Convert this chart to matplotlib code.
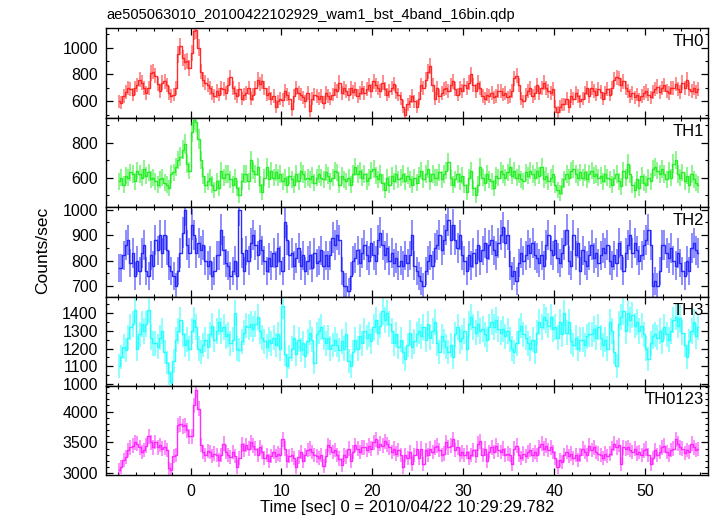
import numpy as np
import matplotlib
matplotlib.use("Agg")
import matplotlib.pyplot as plt
from matplotlib.ticker import MultipleLocator

plt.rcParams['font.family'] = ['Liberation Sans', 'DejaVu Sans']

title = "ae505063010_20100422102929_wam1_bst_4band_16bin.qdp"
xlabel = "Time [sec] 0 = 2010/04/22 10:29:29.782"
bands = ["TH0", "TH1", "TH2", "TH3", "TH0123"]
t_start = -8.0
bin_size = 0.25

# count rates, 0.25 s bins, 4 bins per second (one row = 4 s)
th0 = [600, 590, 640, 670, 700, 690, 650, 700, 720, 760, 740, 700, 660, 700, 810, 820,
       790, 730, 680, 740, 750, 720, 660, 640, 650, 700, 950, 1010, 920, 890, 900, 850,
       960, 1120, 1130, 1000, 820, 760, 740, 720, 700, 660, 640, 680, 650, 700, 690, 660,
       720, 780, 700, 660, 640, 690, 620, 650, 660, 700, 620, 650, 700, 760, 730, 750,
       700, 650, 660, 620, 640, 560, 600, 620, 610, 680, 650, 620, 540, 640, 700, 660,
       650, 630, 600, 660, 530, 620, 650, 640, 620, 640, 590, 660, 640, 620, 650, 690,
       680, 740, 660, 700, 680, 650, 700, 670, 690, 640, 660, 700, 660, 690, 720, 680,
       750, 720, 700, 680, 740, 690, 650, 680, 700, 730, 670, 650, 620, 560, 500, 580,
       600, 640, 600, 560, 620, 720, 700, 760, 820, 860, 720, 620, 700, 640, 660, 690,
       700, 680, 720, 750, 690, 650, 700, 680, 720, 700, 740, 800, 720, 680, 740, 700,
       640, 620, 650, 640, 660, 630, 640, 680, 680, 650, 660, 630, 640, 680, 770, 790,
       720, 620, 600, 650, 680, 700, 640, 660, 720, 660, 700, 740, 700, 680, 660, 690,
       560, 520, 560, 580, 580, 620, 560, 640, 620, 660, 640, 600, 620, 660, 700, 640,
       700, 680, 650, 690, 670, 620, 660, 690, 650, 700, 760, 780, 770, 720, 750, 700,
       680, 640, 660, 630, 650, 610, 640, 660, 680, 650, 630, 670, 690, 710, 670, 700,
       720, 680, 660, 700, 700, 730, 690, 670, 740, 700, 760, 690, 680, 700, 670, 690]

th1 = [580, 600, 560, 610, 600, 630, 620, 580, 640, 620, 600, 650, 610, 630, 590, 600,
       580, 560, 590, 600, 570, 560, 540, 620, 630, 660, 700, 720, 760, 790, 680, 640,
       860, 930, 920, 820, 700, 610, 560, 580, 600, 560, 530, 580, 540, 640, 600, 620,
       620, 590, 560, 600, 540, 500, 580, 620, 620, 580, 700, 640, 620, 660, 560, 520,
       600, 660, 590, 640, 600, 630, 600, 620, 580, 600, 560, 610, 590, 560, 620, 580,
       640, 620, 590, 600, 590, 610, 570, 600, 620, 600, 590, 630, 610, 580, 600, 640,
       630, 560, 610, 590, 580, 600, 560, 620, 660, 620, 640, 600, 620, 580, 600, 640,
       650, 610, 590, 620, 570, 530, 600, 560, 610, 580, 620, 590, 600, 620, 580, 610,
       590, 560, 600, 570, 610, 640, 590, 620, 650, 580, 620, 600, 600, 630, 590, 620,
       640, 690, 600, 560, 590, 620, 580, 610, 560, 520, 600, 640, 540, 500, 560, 660,
       600, 570, 620, 590, 580, 540, 610, 600, 640, 620, 600, 630, 660, 610, 640, 600,
       620, 590, 580, 630, 610, 640, 620, 600, 640, 610, 660, 590, 610, 580, 600, 620,
       560, 530, 510, 550, 590, 620, 600, 640, 650, 620, 600, 630, 600, 630, 590, 620,
       640, 610, 620, 600, 610, 580, 620, 600, 590, 560, 600, 620, 580, 550, 640, 600,
       680, 620, 560, 530, 590, 540, 610, 570, 560, 600, 580, 650, 660, 640, 620, 650,
       620, 590, 640, 600, 680, 700, 620, 600, 630, 580, 610, 560, 620, 590, 570, 560]

th2 = [770, 770, 820, 860, 880, 790, 830, 740, 800, 760, 830, 860, 760, 740, 820, 780,
       880, 840, 900, 830, 900, 840, 780, 760, 740, 700, 760, 830, 910, 1000, 860, 830,
       940, 900, 830, 870, 840, 860, 800, 780, 800, 740, 760, 820, 820, 920, 840, 790,
       780, 740, 760, 800, 740, 1000, 830, 760, 840, 800, 870, 900, 860, 820, 880, 840,
       800, 760, 810, 780, 830, 780, 850, 800, 760, 950, 880, 820, 830, 780, 810, 850,
       780, 820, 760, 800, 820, 770, 830, 790, 800, 840, 780, 820, 780, 820, 890, 860,
       900, 880, 760, 700, 700, 680, 740, 800, 810, 840, 790, 830, 860, 820, 800, 870,
       820, 800, 880, 910, 860, 820, 850, 800, 830, 790, 810, 780, 800, 780, 820, 790,
       820, 900, 780, 760, 740, 720, 700, 760, 800, 820, 780, 850, 860, 900, 840, 880,
       920, 960, 880, 940, 880, 850, 900, 820, 800, 760, 820, 780, 830, 790, 860, 800,
       840, 870, 810, 860, 880, 840, 820, 870, 900, 930, 870, 900, 780, 740, 760, 720,
       790, 830, 800, 820, 860, 830, 870, 820, 810, 790, 820, 780, 860, 900, 840, 820,
       880, 810, 790, 830, 860, 920, 800, 780, 900, 820, 870, 760, 840, 800, 780, 820,
       860, 810, 830, 790, 820, 850, 830, 860, 800, 780, 820, 790, 870, 820, 760, 830,
       860, 900, 830, 870, 840, 800, 820, 860, 880, 920, 860, 700, 720, 700, 760, 860,
       860, 830, 810, 850, 800, 780, 830, 790, 760, 740, 800, 760, 850, 870, 840, 830]

th3 = [1100, 1150, 1210, 1190, 1260, 1320, 1340, 1420, 1200, 1280, 1340, 1300, 1340, 1420, 1260, 1230,
       1230, 1210, 1260, 1300, 1180, 1120, 1060, 1010, 1130, 1250, 1300, 1360, 1280, 1220, 1250, 1200,
       1300, 1360, 1320, 1200, 1180, 1220, 1250, 1210, 1280, 1330, 1250, 1300, 1350, 1300, 1320, 1270,
       1280, 1230, 1250, 1400, 1200, 1190, 1240, 1290, 1330, 1320, 1340, 1310, 1340, 1380, 1300, 1260,
       1240, 1210, 1250, 1230, 1260, 1220, 1280, 1200, 1440, 1170, 1100, 1150, 1200, 1260, 1170, 1250,
       1190, 1230, 1160, 1240, 1290, 1250, 1120, 1280, 1300, 1320, 1260, 1230, 1260, 1200, 1220, 1250,
       1220, 1190, 1240, 1200, 1280, 1130, 1100, 1180, 1250, 1200, 1270, 1230, 1300, 1260, 1280, 1240,
       1320, 1360, 1290, 1330, 1410, 1360, 1400, 1340, 1300, 1230, 1280, 1210, 1250, 1180, 1140, 1220,
       1290, 1210, 1240, 1280, 1300, 1270, 1320, 1250, 1340, 1260, 1300, 1350, 1230, 1180, 1270, 1240,
       1210, 1180, 1220, 1150, 1280, 1320, 1240, 1260, 1300, 1200, 1340, 1380, 1320, 1290, 1340, 1300,
       1310, 1280, 1250, 1320, 1350, 1320, 1360, 1310, 1290, 1310, 1270, 1300, 1250, 1200, 1180, 1230,
       1300, 1330, 1280, 1260, 1230, 1200, 1250, 1180, 1290, 1350, 1320, 1380, 1360, 1330, 1380, 1310,
       1320, 1260, 1350, 1280, 1400, 1290, 1350, 1240, 1220, 1260, 1200, 1250, 1250, 1220, 1270, 1280,
       1280, 1310, 1260, 1320, 1260, 1220, 1250, 1200, 1350, 1300, 1180, 1100, 1340, 1380, 1410, 1300,
       1400, 1360, 1390, 1330, 1350, 1300, 1330, 1280, 1200, 1140, 1230, 1270, 1280, 1260, 1300, 1240,
       1320, 1280, 1250, 1300, 1360, 1380, 1330, 1370, 1290, 1220, 1150, 1240, 1300, 1350, 1270, 1320]

th0123 = [3050, 3100, 3210, 3260, 3380, 3420, 3450, 3500, 3480, 3420, 3350, 3380, 3450, 3600, 3500, 3420,
          3510, 3420, 3460, 3400, 3420, 3380, 3080, 3050, 3280, 3300, 3780, 3800, 3760, 3780, 3700, 3600,
          3600, 4100, 4350, 4050, 3460, 3350, 3300, 3360, 3350, 3280, 3320, 3300, 3220, 3300, 3480, 3350,
          3300, 3260, 3340, 3280, 3100, 3250, 3470, 3380, 3460, 3400, 3500, 3450, 3400, 3300, 3420, 3350,
          3250, 3300, 3200, 3280, 3350, 3280, 3320, 3300, 3550, 3400, 3200, 3280, 3300, 3250, 3100, 3260,
          3350, 3200, 3300, 3380, 3400, 3350, 3300, 3280, 3250, 3300, 3120, 3280, 3460, 3420, 3350, 3380,
          3300, 3240, 3140, 3300, 3260, 3400, 3200, 3350, 3460, 3400, 3350, 3420, 3420, 3380, 3450, 3400,
          3500, 3550, 3420, 3480, 3450, 3520, 3470, 3420, 3350, 3400, 3320, 3380, 3300, 3100, 3300, 3250,
          3350, 3150, 3300, 3400, 3250, 3400, 3150, 3380, 3300, 3400, 3350, 3420, 3450, 3380, 3300, 3320,
          3500, 3420, 3450, 3550, 3380, 3420, 3300, 3350, 3300, 3350, 3250, 3300, 3380, 3280, 3480, 3520,
          3300, 3400, 3200, 3350, 3420, 3350, 3450, 3380, 3350, 3400, 3300, 3320, 3300, 3150, 3400, 3450,
          3300, 3250, 3320, 3280, 3350, 3380, 3300, 3340, 3300, 3420, 3480, 3400, 3450, 3380, 3420, 3350,
          3250, 3100, 3220, 3180, 3300, 3350, 3280, 3320, 3250, 3300, 3220, 3300, 3400, 3350, 3300, 3450,
          3380, 3420, 3350, 3320, 3300, 3250, 3320, 3280, 3320, 3400, 3480, 3420, 3460, 3150, 3420, 3400,
          3420, 3380, 3350, 3400, 3320, 3350, 3300, 3370, 3400, 3300, 3150, 3250, 3380, 3300, 3350, 3420,
          3450, 3350, 3300, 3380, 3400, 3550, 3480, 3420, 3400, 3330, 3380, 3350, 3480, 3420, 3380, 3390]

series = [th0, th1, th2, th3, th0123]
colors = ["#ff2020", "#20ee20", "#2020ff", "#20ffff", "#ff20ff"]
ylims = [(480, 1145), (432, 943), (659, 1010), (988, 1494), (2965, 4415)]
ymajor = [200, 200, 100, 100, 500]
yminor = [100, 100, 50, 50, 100]

fig = plt.figure(figsize=(7.17, 5.16), dpi=100)
left, right, top, bottom = 0.148, 0.987, 0.9457, 0.0785
h = (top - bottom) / 5

for i, (name, rate, c) in enumerate(zip(bands, series, colors)):
    ax = fig.add_axes([left, top - (i + 1) * h, right - left, h])
    rate = np.array(rate, dtype=float)
    t = t_start + bin_size / 2 + bin_size * np.arange(len(rate))
    err = 2 * np.sqrt(rate)  # poisson error for 0.25 s bins
    ax.errorbar(t, rate, yerr=err, fmt='none', ecolor=c, elinewidth=1.3,
                alpha=0.55, capsize=0)
    ax.step(t, rate, where='mid', color=c, lw=1.0, alpha=0.95)
    ax.set_xlim(-9.3, 56.9)
    ax.set_ylim(*ylims[i])
    ax.xaxis.set_major_locator(MultipleLocator(10))
    ax.xaxis.set_minor_locator(MultipleLocator(2))
    ax.yaxis.set_major_locator(MultipleLocator(ymajor[i]))
    ax.yaxis.set_minor_locator(MultipleLocator(yminor[i]))
    ax.tick_params(which='both', direction='in', top=True, right=True,
                   labelsize=11.5, pad=6)
    ax.tick_params(which='major', length=5, width=0.9)
    ax.tick_params(which='minor', length=2.5, width=0.8)
    for s in ax.spines.values():
        s.set_linewidth(1.0)
    ax.text(0.994, 0.93, name, transform=ax.transAxes, ha='right', va='top', fontsize=12)
    if i < 4:
        ax.tick_params(labelbottom=False)
    else:
        ax.set_xlabel(xlabel, fontsize=12, labelpad=1)

fig.text(left, 0.971, title, ha='left', va='center', fontsize=10.5)
fig.text(0.06, 0.515, "Counts/sec", rotation=90, ha='center', va='center', fontsize=12.5)

fig.savefig("out.png", dpi=100)
